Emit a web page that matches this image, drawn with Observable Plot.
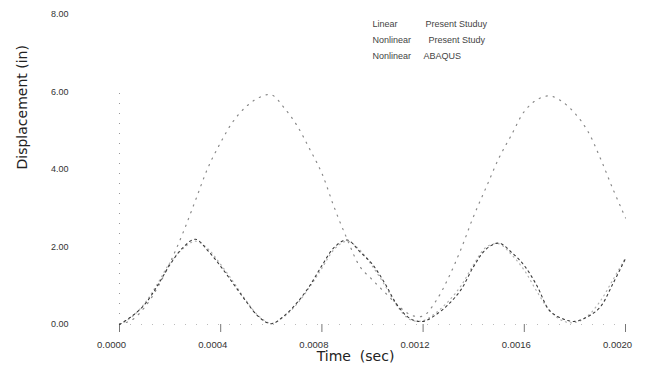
<!DOCTYPE html>
<html>
<head>
<meta charset="utf-8">
<script src="https://cdn.jsdelivr.net/npm/d3@7"></script>
<script src="https://cdn.jsdelivr.net/npm/@observablehq/plot@0.6"></script>
<style>
  html, body { margin: 0; padding: 0; background: #fff; }
  #chart { width: 645px; height: 369px; overflow: hidden; }
</style>
</head>
<body>
<div id="chart"></div>
<script>
// Time samples (sec)
const times = [
  0, 0.00005, 0.0001, 0.00015, 0.0002, 0.00025, 0.0003, 0.00035, 0.0004, 0.00045,
  0.0005, 0.00055, 0.0006, 0.00065, 0.0007, 0.00075, 0.0008, 0.00085, 0.0009, 0.00095,
  0.001, 0.00105, 0.0011, 0.00115, 0.0012, 0.00125, 0.0013, 0.00135, 0.0014, 0.00145,
  0.0015, 0.00155, 0.0016, 0.00165, 0.0017, 0.00175, 0.0018, 0.00185, 0.0019, 0.00195, 0.002
];
// Linear – Present Study (in)
const linearPresent = [
  0, 0.12, 0.45, 0.95, 1.6, 2.35, 3.2, 4.05, 4.7, 5.25,
  5.62, 5.85, 5.93, 5.6, 5.15, 4.55, 3.9, 3.0, 2.2, 1.5,
  1.15, 0.82, 0.5, 0.25, 0.22, 0.6, 1.2, 1.95, 2.8, 3.55,
  4.3, 4.9, 5.5, 5.8, 5.9, 5.75, 5.45, 5.0, 4.3, 3.5, 2.75
];
// Nonlinear – Present Study (in)
const nonlinearPresent = [
  0, 0.22, 0.52, 1.0, 1.55, 1.98, 2.2, 1.9, 1.5, 1.05,
  0.6, 0.2, 0.02, 0.22, 0.55, 0.98, 1.52, 2.0, 2.18, 1.88,
  1.55, 1.05, 0.48, 0.15, 0.08, 0.25, 0.52, 0.9, 1.5, 1.95,
  2.1, 1.86, 1.52, 1.0, 0.36, 0.15, 0.08, 0.2, 0.45, 1.05, 1.7
];
// Nonlinear – ABAQUS (in)
const nonlinearAbaqus = [
  0, 0.2, 0.55, 1.05, 1.6, 1.95, 2.15, 1.95, 1.55, 1.1,
  0.62, 0.22, 0.03, 0.2, 0.52, 0.95, 1.45, 1.95, 2.15, 1.92,
  1.5, 1.0, 0.45, 0.12, 0.1, 0.3, 0.6, 1.0, 1.55, 2.0,
  2.08, 1.8, 1.4, 0.85, 0.36, 0.1, 0.05, 0.22, 0.6, 1.15, 1.72
];
const xTicks = [0, 0.0004, 0.0008, 0.0012, 0.0016, 0.002];
const xTickLabels = ["0.0000", "0.0004", "0.0008", "0.0012", "0.0016", "0.0020"];
const yTicks = [0, 2, 4, 6, 8];
const yTickLabels = ["0.00", "2.00", "4.00", "6.00", "8.00"];
const legendLeft = ["Linear", "Nonlinear", "Nonlinear"];
const legendRight = ["Present Studuy", "Present Study", "ABAQUS"];

const toRows = (vals) => times.map((t, i) => ({t, v: vals[i]}));
const linRows = toRows(linearPresent);
const nlRows = toRows(nonlinearPresent);
const abRows = toRows(nonlinearAbaqus);

const font = "'Liberation Sans', Arial, sans-serif";
const legendDy = [6, 22, 38.5];
const legendDx2 = [306, 309, 304];

const chart = Plot.plot({
  width: 645,
  height: 369,
  marginLeft: 119,
  marginRight: 20,
  marginTop: 14,
  marginBottom: 45,
  style: {fontFamily: font, fontSize: "9px", color: "#333", background: "#fff"},
  x: {domain: [0, 0.002]},
  y: {domain: [0, 8]},
  marks: [
    // faint dotted axes lines
    Plot.ruleY([0], {stroke: "#bbb", strokeDasharray: "1,10", strokeWidth: 1}),
    Plot.ruleX([0], {y1: 0, y2: 6, stroke: "#999", strokeDasharray: "1,9", strokeWidth: 1}),
    // x tick marks
    Plot.axisX({ticks: xTicks, tickSize: 8, stroke: "#777", tickFormat: () => "", label: null}),
    // x tick labels (shifted left as in the original)
    Plot.axisX({ticks: xTicks, tickSize: 0, tickPadding: 17, dx: -8, fontSize: 9.5,
      tickFormat: (d) => xTickLabels[xTicks.indexOf(d)], label: null, fill: "#333"}),
    // y tick labels
    Plot.axisY({ticks: yTicks, tickSize: 0, tickPadding: 51,
      tickFormat: (d) => yTickLabels[yTicks.indexOf(d)], label: null, fill: "#333"}),
    // series
    Plot.line(linRows, {x: "t", y: "v", curve: "catmull-rom", stroke: "#8a8a8a",
      strokeWidth: 1.2, strokeDasharray: "1.2,6"}),
    Plot.line(abRows, {x: "t", y: "v", curve: "catmull-rom", stroke: "#b0b0b0",
      strokeWidth: 1.2, strokeDasharray: "1,4"}),
    Plot.line(nlRows, {x: "t", y: "v", curve: "catmull-rom", stroke: "#3a3a3a",
      strokeWidth: 1.1, strokeDasharray: "2,3.5"}),
    // axis titles
    Plot.text(["Displacement (in)"], {frameAnchor: "left", dx: -97, rotate: -90,
      fontSize: 14, fontFamily: "'DejaVu Sans', sans-serif", fill: "#222", text: (d) => d}),
    Plot.text(["Time  (sec)"], {frameAnchor: "bottom", dx: -17, dy: 36,
      fontSize: 14, fontFamily: "'DejaVu Sans', sans-serif", fill: "#222",
      text: (d) => d, style: "letter-spacing:1.5px"}),
    // legend
    ...legendLeft.map((s, i) => Plot.text([s], {frameAnchor: "top-left", dx: 253, dy: legendDy[i],
      textAnchor: "start", fill: "#444", fontSize: 9, text: (d) => d})),
    ...legendRight.map((s, i) => Plot.text([s], {frameAnchor: "top-left", dx: legendDx2[i], dy: legendDy[i],
      textAnchor: "start", fill: "#444", fontSize: 9, text: (d) => d}))
  ]
});
document.getElementById("chart").appendChild(chart);
</script>
</body>
</html>
